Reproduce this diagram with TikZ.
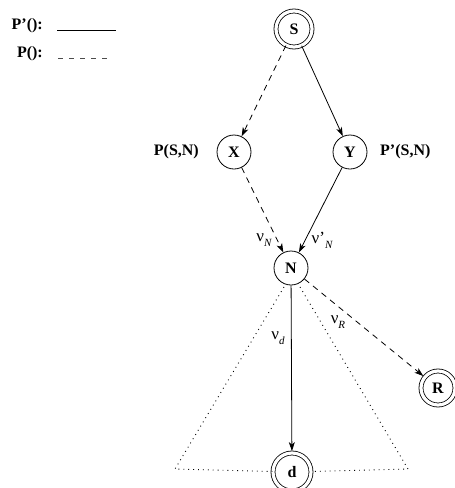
\documentclass[tikz,border=0pt]{standalone}
\usepackage{fontspec}
\setmainfont{Liberation Serif}
\usetikzlibrary{arrows.meta}

\tikzset{
  state/.style={circle, draw, line width=0.8pt, minimum size=34pt, inner sep=0pt,
                font=\fontsize{16}{18}\selectfont\bfseries},
  final/.style={circle, draw, line width=0.8pt, double, double distance=3.2pt,
                inner sep=0pt, font=\fontsize{16}{18}\selectfont\bfseries},
  lbl/.style={font=\fontsize{16}{18}\selectfont\bfseries, inner sep=0pt},
  wlbl/.style={font=\fontsize{17}{18}\selectfont, inner sep=0pt},
  edge/.style={line width=0.8pt, -{Stealth[length=9pt,width=6pt,inset=2.5pt]}},
  dashedge/.style={edge, dash pattern=on 6pt off 5pt},
  dotline/.style={line width=0.9pt, dash pattern=on 0.9pt off 4pt},
}

% nu with an optional prime and an italic subscript
\newcommand{\nuwith}[2]{ν#1\raisebox{-5pt}{\fontsize{11}{12}\selectfont\itshape #2}}

\begin{document}
\begin{tikzpicture}[x=1pt, y=-1pt]
  \useasboundingbox (0,0) rectangle (455,488);

  % legend
  \node[lbl, anchor=east] (lsolid) at (43,26) {P’():};
  \node[lbl, anchor=east] (ldash) at (43,54) {P():};
  \coordinate (ls1) at (57,30);
  \coordinate (ls2) at (116,30);
  \coordinate (ld1) at (58,58);
  \coordinate (ld2) at (111,58);
  \draw[line width=0.9pt] (ls1) -- (ls2);
  \draw[line width=0.8pt, black!70, dash pattern=on 5pt off 6pt] (ld1) -- (ld2);

  % states
  \node[final, minimum size=36pt] (S) at (294,29) {S};
  \node[state] (X) at (234,152) {X};
  \node[state] (Y) at (350,152) {Y};
  \node[state] (N) at (291,268) {N};
  \node[final, minimum size=34pt] (R) at (438,388) {R};
  \node[final, minimum size=38pt] (d) at (292,472) {d};

  % dotted triangle below N
  \coordinate (tl) at (284,287);
  \coordinate (tr) at (300,287);
  \coordinate (bl) at (175,469);
  \coordinate (br) at (408,469);
  \draw[dotline] (tl) -- (bl) -- (d);
  \draw[dotline] (tr) -- (br) -- (d);

  % transitions
  \draw[dashedge] (S) -- (X);
  \draw[edge] (S) -- (Y);
  \draw[dashedge] (X) -- (N);
  \draw[edge] (Y) -- (N);
  \draw[edge, shorten >=1.5pt] (N) -- (d);
  \draw[dashedge, shorten >=1.5pt] (N) -- (R);

  % labels
  \node[lbl, anchor=east] (pSN) at (199,152) {P(S,N)};
  \node[lbl, anchor=west] (ppSN) at (380,152) {P’(S,N)};
  \node[wlbl] (nuN) at (264,240) {\nuwith{}{N}};
  \node[wlbl] (nupN) at (322,240) {\nuwith{’}{N}};
  \node[wlbl] (nuR) at (338,322) {\nuwith{}{R}};
  \node[wlbl] (nud) at (278,338) {\nuwith{}{d}};
\end{tikzpicture}
\end{document}
